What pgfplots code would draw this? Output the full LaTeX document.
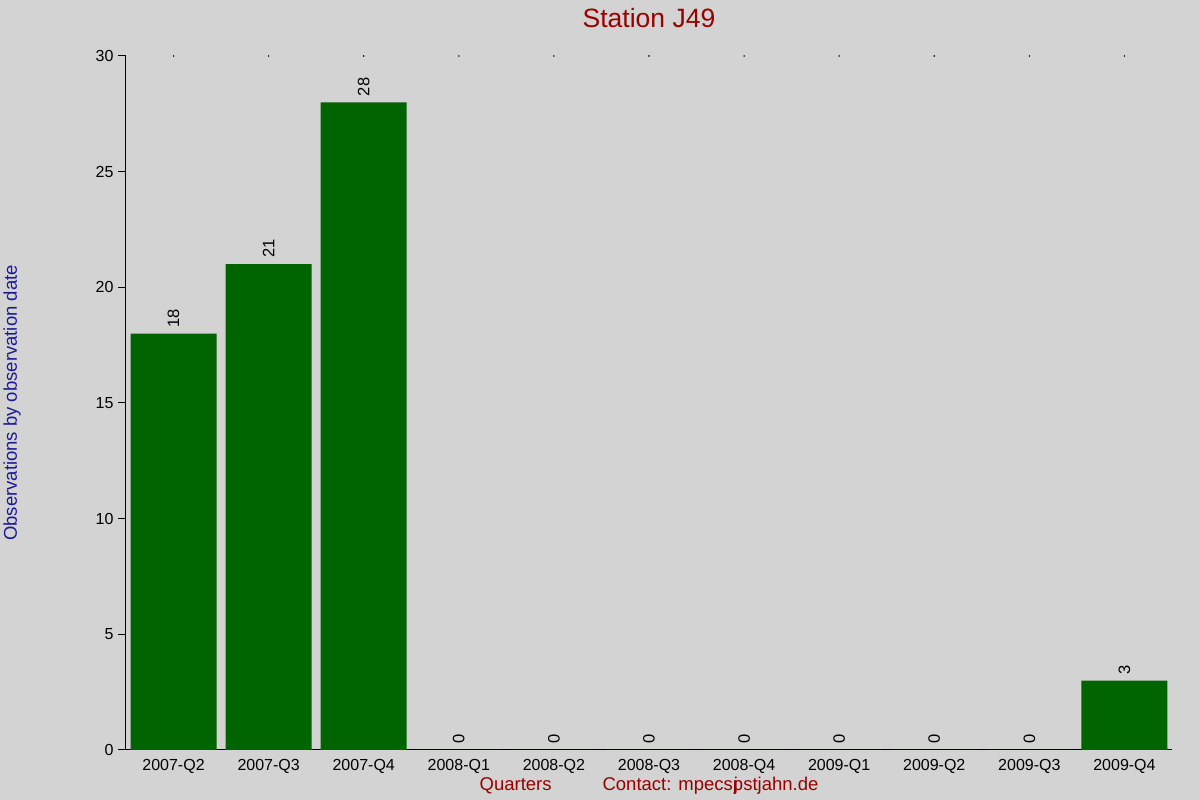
\documentclass[border=0pt]{standalone}
\usepackage{fontspec}
\setmainfont{Liberation Sans}
\usepackage{pgfplots}
\pgfplotsset{compat=1.18}
\definecolor{bg}{HTML}{D3D3D3}
\definecolor{bargreen}{HTML}{006400}
\definecolor{titlered}{HTML}{990000}
\definecolor{labelblue}{HTML}{1A1A99}
\begin{document}
\begin{tikzpicture}
\fill[bg] (0,0) rectangle (1200pt,800pt);
\begin{axis}[
  at={(126pt,50pt)}, anchor=south west,
  scale only axis, width=1046pt, height=694pt,
  xmin=-0.5, xmax=10.5, ymin=0, ymax=30,
  axis x line*=bottom, axis y line*=left,
  x axis line style={-, shorten <=-8pt, line width=1pt},
  y axis line style={-, line width=1pt},
  xtick={0,...,10},
  xticklabels={2007-Q2,2007-Q3,2007-Q4,2008-Q1,2008-Q2,2008-Q3,2008-Q4,2009-Q1,2009-Q2,2009-Q3,2009-Q4},
  x tick style={draw=none},
  ytick={0,5,10,15,20,25,30},
  y tick style={line width=1pt, black},
  tick align=outside, major tick length=8pt,
  /pgf/number format/assume math mode=true,
  tick label style={font=\fontsize{16}{18}\selectfont, black},
  xticklabel style={yshift=2pt},
  yticklabel style={xshift=-1pt},
  title={Station J49},
  title style={at={(axis description cs:0.5,1.0455)}, anchor=center, font=\fontsize{26.5}{30}\selectfont, text=titlered},
  ylabel={Observations by observation date},
  ylabel style={at={(axis description cs:-0.109,0.5)}, anchor=center, font=\fontsize{18.5}{20}\selectfont, text=labelblue},
  xlabel={Quarters\hspace{51pt}Contact: mpecs\kern1pt j\kern-5pt pstjahn.de},
  xlabel style={at={(axis description cs:0.5,-0.0519)}, anchor=center, font=\fontsize{18.5}{20}\selectfont, text=titlered},
  clip=false,
]
\addplot[ybar, bar width=86pt, fill=bargreen, draw=none,
  nodes near coords,
  every node near coord/.append style={rotate=90, anchor=west, font=\fontsize{16.5}{18}\selectfont, black, inner sep=6pt},
] coordinates {
(0,18) (1,21) (2,28) (3,0) (4,0) (5,0) (6,0) (7,0) (8,0) (9,0) (10,3)
};
\addplot[only marks, mark=*, mark size=0.5pt, black] coordinates {
(0,30) (1,30) (2,30) (3,30) (4,30) (5,30) (6,30) (7,30) (8,30) (9,30) (10,30)
};
\end{axis}
\pgfresetboundingbox
\path (0,0) rectangle (1200pt,800pt);
\end{tikzpicture}
\end{document}
